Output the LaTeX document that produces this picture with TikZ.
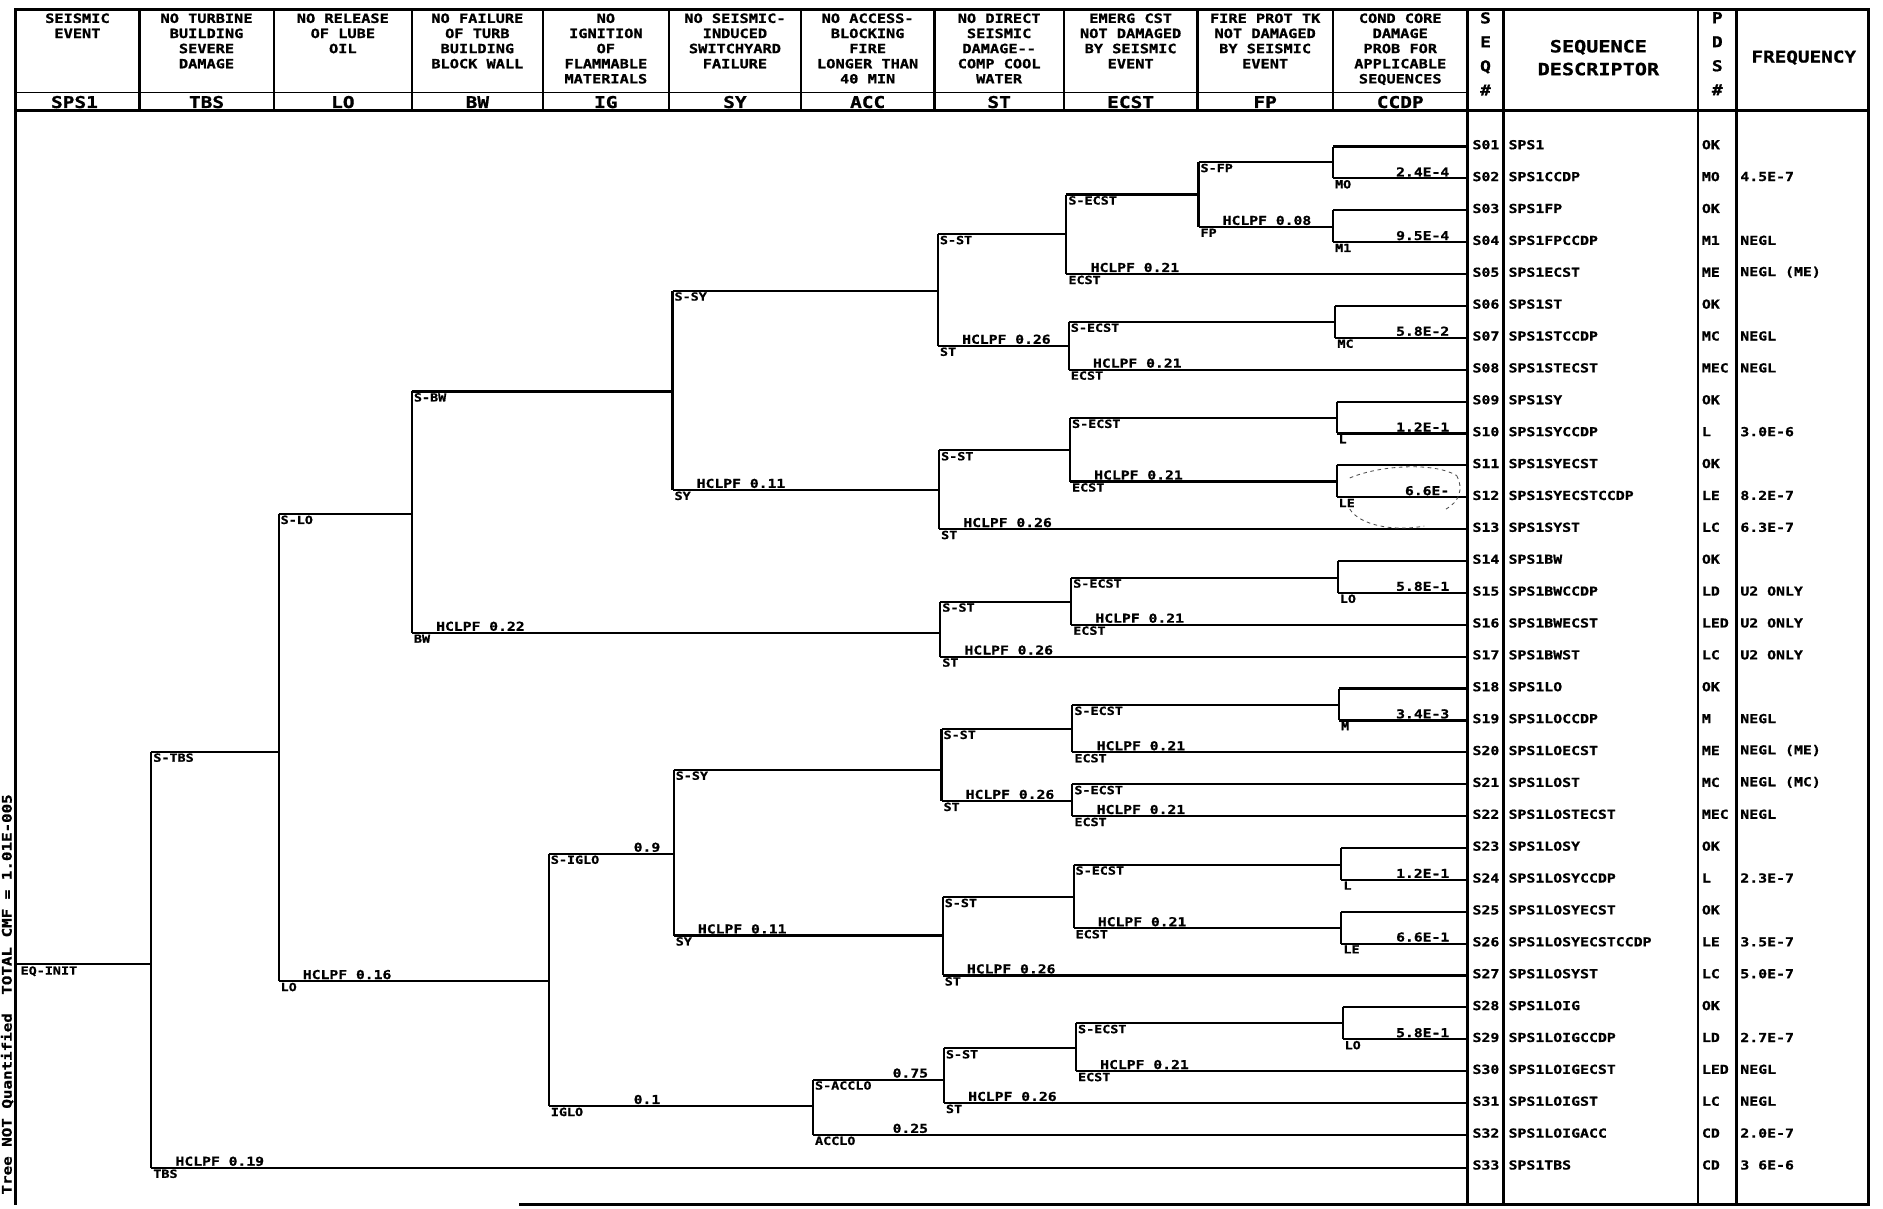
\documentclass[tikz,border=0pt]{standalone}
\usepackage{fontspec}
\newfontfamily\pf{DejaVu Sans Mono Bold}[FakeStretch=1.2,FakeBold=1]
\newcommand\PF[1]{\pf\fontsize{#1}{#1}\selectfont}
\newcommand\PFL[2]{\pf\fontsize{#1}{#2}\selectfont}
\newcommand\TreeSplit[5]{%
  \coordinate (#1) at (#2,#3);
  \coordinate (#1-u) at (#2,#4);
  \coordinate (#1-d) at (#2,#5);
  \draw[br] (#1-u) -- (#1-d);}
\newcommand\SLab[4]{%
  \node[sl,anchor=north west,xshift=1.5pt,yshift=-1.2pt] (#1-ul) at (#1-u) {#2};
  \node[hl,anchor=south west,xshift=20pt,yshift=1.4pt] (#1-hl) at (#1-d) {#3};
  \node[sl,anchor=north west,xshift=1.5pt,yshift=-1.2pt] (#1-dl) at (#1-d) {#4};}
\newcommand\CLab[3]{%
  \node[pl,anchor=south east,yshift=1.4pt] (#1-p) at (#1-d -| pr) {#2};
  \node[sl,anchor=north west,xshift=1.5pt,yshift=-1.2pt] (#1-l) at (#1-d) {#3};}
\begin{document}
\begin{tikzpicture}[x=1pt,y=-1pt,
  br/.style={line width=1.8pt},
  frm/.style={line width=2.1pt},
  sl/.style={font=\PF{9.3},inner sep=0pt},
  hl/.style={font=\PF{10.2},inner sep=0pt},
  pl/.style={font=\PF{10.2},inner sep=0pt},
  hd/.style={font=\PFL{10.6}{12.6},align=center,anchor=north,inner sep=0pt},
  cd/.style={font=\PF{13.5},inner sep=0pt},
  tb/.style={font=\PF{10.3},anchor=west,inner sep=0pt},
  big/.style={font=\PFL{12.5}{20},align=center,inner sep=0pt},
  hand/.style={line width=0.7pt,dashed,black!70}]
\fill[white] (0,0) rectangle (1568,1006);
\useasboundingbox (0,0) rectangle (1568,1006);

% ---------- frame ----------
\draw[frm] (13,1003) -- (13,8) -- (1556,8) -- (1556,1003) -- (432,1003);
\draw[frm] (13,92) -- (1556,92);
\draw[line width=1.6pt] (13,77) -- (1222,77);
\foreach \x in {116,228,343,452,557,667,778,886,997,1110}
  \draw[frm] (\x,8) -- (\x,92);
\foreach \x in {1222,1252,1414,1446}
  \draw[frm] (\x,8) -- (\x,1003);

% ---------- header ----------
\node[hd] (h1) at (64.5,11) {SEISMIC\\EVENT};
\node[hd] (h2) at (172,11) {NO TURBINE\\BUILDING\\SEVERE\\DAMAGE};
\node[hd] (h3) at (285.5,11) {NO RELEASE\\OF LUBE\\OIL};
\node[hd] (h4) at (397.5,11) {NO FAILURE\\OF TURB\\BUILDING\\BLOCK WALL};
\node[hd] (h5) at (504.5,11) {NO\\IGNITION\\OF\\FLAMMABLE\\MATERIALS};
\node[hd] (h6) at (612,11) {NO SEISMIC-\\INDUCED\\SWITCHYARD\\FAILURE};
\node[hd] (h7) at (722.5,11) {NO ACCESS-\\BLOCKING\\FIRE\\LONGER THAN\\40 MIN};
\node[hd] (h8) at (832,11) {NO DIRECT\\SEISMIC\\DAMAGE--\\COMP COOL\\WATER};
\node[hd] (h9) at (941.5,11) {EMERG CST\\NOT DAMAGED\\BY SEISMIC\\EVENT};
\node[hd] (h10) at (1053.5,11) {FIRE PROT TK\\NOT DAMAGED\\BY SEISMIC\\EVENT};
\node[hd] (h11) at (1166,11) {COND CORE\\DAMAGE\\PROB FOR\\APPLICABLE\\SEQUENCES};
\foreach \c/\t [count=\n] in {62/SPS1,172/TBS,285.5/LO,397.5/BW,504.5/IG,612/SY,722.5/ACC,832/ST,941.5/ECST,1053.5/FP,1166/CCDP}
  \node[cd] (c\n) at (\c,85) {\t};
\node[big,anchor=north] (hseq) at (1237,10) {S\\E\\Q\\\#};
\node[big,anchor=north] (hpds) at (1430,10) {P\\D\\S\\\#};
\node[big,font=\PFL{14}{19}] (hdesc) at (1331,48) {SEQUENCE\\DESCRIPTOR};
\node[big,font=\PF{13.4}] (hfreq) at (1502,48) {FREQUENCY};

% ---------- rotated note ----------
\node[font=\PF{11},rotate=90,inner sep=0pt] (note) at (6,828) {Tree NOT Quantified\hspace{1.4em}TOTAL CMF = 1.01E-005};

% ---------- end points ----------
\foreach \i in {1,...,33}
  \coordinate (e\i) at (1222,{122+(\i-1)*26.55});
\coordinate (pr) at (1207,0);

% ---------- tree ----------
\coordinate (init) at (13,803);
\TreeSplit{tbs}{126}{803}{626}{972.5}
\draw[br] (init) -- (tbs);
\TreeSplit{lo}{232}{626}{428}{817}
\draw[br] (tbs-u) -- (lo);
\TreeSplit{bw}{343}{428}{326}{527}
\draw[br] (lo-u) -- (bw);
\TreeSplit{syA}{560}{326}{242}{408}
\draw[br] (bw-u) -- (syA);
\TreeSplit{stA}{781}{242}{195}{288}
\draw[br] (syA-u) -- (stA);
\TreeSplit{ecA}{888}{195}{162}{228.2}
\draw[br] (stA-u) -- (ecA);
\TreeSplit{fp}{998}{162}{135}{189}
\draw[br] (ecA-u) -- (fp);
\TreeSplit{ccA}{1110}{135}{122}{148.55}
\draw[br] (fp-u) -- (ccA);
\TreeSplit{ccB}{1110}{189}{175.1}{201.65}
\draw[br] (fp-d) -- (ccB);
\TreeSplit{ecB}{890}{288}{268}{307.85}
\draw[br] (stA-d) -- (ecB);
\TreeSplit{ccC}{1112}{268}{254.75}{281.3}
\draw[br] (ecB-u) -- (ccC);
\TreeSplit{stB}{782}{408}{375}{440.6}
\draw[br] (syA-d) -- (stB);
\TreeSplit{ecC}{891}{375}{348}{401}
\draw[br] (stB-u) -- (ecC);
\TreeSplit{ccD}{1113}{348}{334.4}{360.95}
\draw[br] (ecC-u) -- (ccD);
\TreeSplit{ccE}{1113}{401}{387.5}{414.05}
\draw[br] (ecC-d) -- (ccE);
\TreeSplit{stC}{783}{527}{501}{546.8}
\draw[br] (bw-d) -- (stC);
\TreeSplit{ecD}{892}{501}{481}{520.25}
\draw[br] (stC-u) -- (ecD);
\TreeSplit{ccF}{1114}{481}{467.15}{493.7}
\draw[br] (ecD-u) -- (ccF);
\TreeSplit{ig}{457}{817}{711}{921}
\draw[br] (lo-d) -- (ig);
\TreeSplit{syB}{561}{711}{641}{779}
\draw[br] (ig-u) -- (syB);
\TreeSplit{stD}{784}{641}{607}{667}
\draw[br] (syB-u) -- (stD);
\TreeSplit{ecE}{893}{607}{587}{626.45}
\draw[br] (stD-u) -- (ecE);
\TreeSplit{ccG}{1115}{587}{573.35}{599.9}
\draw[br] (ecE-u) -- (ccG);
\TreeSplit{ecF}{893}{667}{653}{679.55}
\draw[br] (stD-d) -- (ecF);
\TreeSplit{stE}{785}{779}{747}{812.3}
\draw[br] (syB-d) -- (stE);
\TreeSplit{ecG}{894}{747}{720}{773}
\draw[br] (stE-u) -- (ecG);
\TreeSplit{ccH}{1117}{720}{706.1}{732.65}
\draw[br] (ecG-u) -- (ccH);
\TreeSplit{ccI}{1117}{773}{759.2}{785.75}
\draw[br] (ecG-d) -- (ccI);
\TreeSplit{acc}{677}{921}{899}{945.05}
\draw[br] (ig-d) -- (acc);
\TreeSplit{stF}{786}{899}{873}{918.5}
\draw[br] (acc-u) -- (stF);
\TreeSplit{ecH}{896}{873}{852}{891.95}
\draw[br] (stF-u) -- (ecH);
\TreeSplit{ccJ}{1118}{852}{838.85}{865.4}
\draw[br] (ecH-u) -- (ccJ);

% leaves
\foreach \s/\k in {ccA-u/1,ccA-d/2,ccB-u/3,ccB-d/4,ecA-d/5,ccC-u/6,ccC-d/7,ecB-d/8,
  ccD-u/9,ccD-d/10,ccE-u/11,ccE-d/12,stB-d/13,ccF-u/14,ccF-d/15,ecD-d/16,stC-d/17,
  ccG-u/18,ccG-d/19,ecE-d/20,ecF-u/21,ecF-d/22,ccH-u/23,ccH-d/24,ccI-u/25,ccI-d/26,
  stE-d/27,ccJ-u/28,ccJ-d/29,ecH-d/30,stF-d/31,acc-d/32,tbs-d/33}
  \draw[br] (\s) -- (\s -| e\k);

% labels
\node[sl,anchor=north west,xshift=4pt,yshift=-1.5pt] (initl) at (init) {EQ-INIT};
\SLab{tbs}{S-TBS}{HCLPF 0.19}{TBS}
\SLab{lo}{S-LO}{HCLPF 0.16}{LO}
\SLab{bw}{S-BW}{HCLPF 0.22}{BW}
\SLab{syA}{S-SY}{HCLPF 0.11}{SY}
\SLab{stA}{S-ST}{HCLPF 0.26}{ST}
\SLab{ecA}{S-ECST}{HCLPF 0.21}{ECST}
\SLab{fp}{S-FP}{HCLPF 0.08}{FP}
\SLab{ecB}{S-ECST}{HCLPF 0.21}{ECST}
\SLab{stB}{S-ST}{HCLPF 0.26}{ST}
\SLab{ecC}{S-ECST}{HCLPF 0.21}{ECST}
\SLab{stC}{S-ST}{HCLPF 0.26}{ST}
\SLab{ecD}{S-ECST}{HCLPF 0.21}{ECST}
\SLab{syB}{S-SY}{HCLPF 0.11}{SY}
\SLab{stD}{S-ST}{HCLPF 0.26}{ST}
\SLab{ecE}{S-ECST}{HCLPF 0.21}{ECST}
\SLab{ecF}{S-ECST}{HCLPF 0.21}{ECST}
\SLab{stE}{S-ST}{HCLPF 0.26}{ST}
\SLab{ecG}{S-ECST}{HCLPF 0.21}{ECST}
\SLab{stF}{S-ST}{HCLPF 0.26}{ST}
\SLab{ecH}{S-ECST}{HCLPF 0.21}{ECST}
\node[sl,anchor=north west,xshift=1.5pt,yshift=-1.2pt] (igul) at (ig-u) {S-IGLO};
\node[sl,anchor=north west,xshift=1.5pt,yshift=-1.2pt] (igdl) at (ig-d) {IGLO};
\node[hl,anchor=south east,xshift=93pt,yshift=1.4pt] (igup) at (ig-u) {0.9};
\node[hl,anchor=south east,xshift=93pt,yshift=1.4pt] (igdp) at (ig-d) {0.1};
\node[sl,anchor=north west,xshift=1.5pt,yshift=-1.2pt] (accul) at (acc-u) {S-ACCLO};
\node[sl,anchor=north west,xshift=1.5pt,yshift=-1.2pt] (accdl) at (acc-d) {ACCLO};
\node[hl,anchor=south east,xshift=96pt,yshift=1.4pt] (accup) at (acc-u) {0.75};
\node[hl,anchor=south east,xshift=96pt,yshift=1.4pt] (accdp) at (acc-d) {0.25};
\CLab{ccA}{2.4E-4}{MO}
\CLab{ccB}{9.5E-4}{M1}
\CLab{ccC}{5.8E-2}{MC}
\CLab{ccD}{1.2E-1}{L}
\CLab{ccE}{6.6E-}{LE}
\CLab{ccF}{5.8E-1}{LO}
\CLab{ccG}{3.4E-3}{M}
\CLab{ccH}{1.2E-1}{L}
\CLab{ccI}{6.6E-1}{LE}
\CLab{ccJ}{5.8E-1}{LO}

% hand-drawn circle
\draw[hand] (1124,398) .. controls (1150,387) and (1195,385) .. (1213,396);
\draw[hand] (1213,396) .. controls (1219,407) and (1215,418) .. (1204,424);
\draw[hand] (1124,424) .. controls (1132,437) and (1160,443) .. (1186,438);

% ---------- sequence table ----------
\foreach \i/\s/\d/\p/\f in {
 1/S01/SPS1/OK/,2/S02/SPS1CCDP/MO/4.5E-7,3/S03/SPS1FP/OK/,4/S04/SPS1FPCCDP/M1/NEGL,
 5/S05/SPS1ECST/ME/NEGL (ME),6/S06/SPS1ST/OK/,7/S07/SPS1STCCDP/MC/NEGL,
 8/S08/SPS1STECST/MEC/NEGL,9/S09/SPS1SY/OK/,10/S10/SPS1SYCCDP/L/3.0E-6,
 11/S11/SPS1SYECST/OK/,12/S12/SPS1SYECSTCCDP/LE/8.2E-7,13/S13/SPS1SYST/LC/6.3E-7,
 14/S14/SPS1BW/OK/,15/S15/SPS1BWCCDP/LD/U2 ONLY,16/S16/SPS1BWECST/LED/U2 ONLY,
 17/S17/SPS1BWST/LC/U2 ONLY,18/S18/SPS1LO/OK/,19/S19/SPS1LOCCDP/M/NEGL,
 20/S20/SPS1LOECST/ME/NEGL (ME),21/S21/SPS1LOST/MC/NEGL (MC),
 22/S22/SPS1LOSTECST/MEC/NEGL,23/S23/SPS1LOSY/OK/,24/S24/SPS1LOSYCCDP/L/2.3E-7,
 25/S25/SPS1LOSYECST/OK/,26/S26/SPS1LOSYECSTCCDP/LE/3.5E-7,27/S27/SPS1LOSYST/LC/5.0E-7,
 28/S28/SPS1LOIG/OK/,29/S29/SPS1LOIGCCDP/LD/2.7E-7,30/S30/SPS1LOIGECST/LED/NEGL,
 31/S31/SPS1LOIGST/LC/NEGL,32/S32/SPS1LOIGACC/CD/2.0E-7,33/S33/SPS1TBS/CD/3 6E-6}
{
 \node[tb] (s\i) at (1226,{122+(\i-1)*26.55-1.5}) {\s};
 \node[tb] (d\i) at (1256,{122+(\i-1)*26.55-1.5}) {\d};
 \node[tb] (p\i) at (1417,{122+(\i-1)*26.55-1.5}) {\p};
 \node[tb] (f\i) at (1449,{122+(\i-1)*26.55-1.5}) {\f};
}
\end{tikzpicture}
\end{document}
